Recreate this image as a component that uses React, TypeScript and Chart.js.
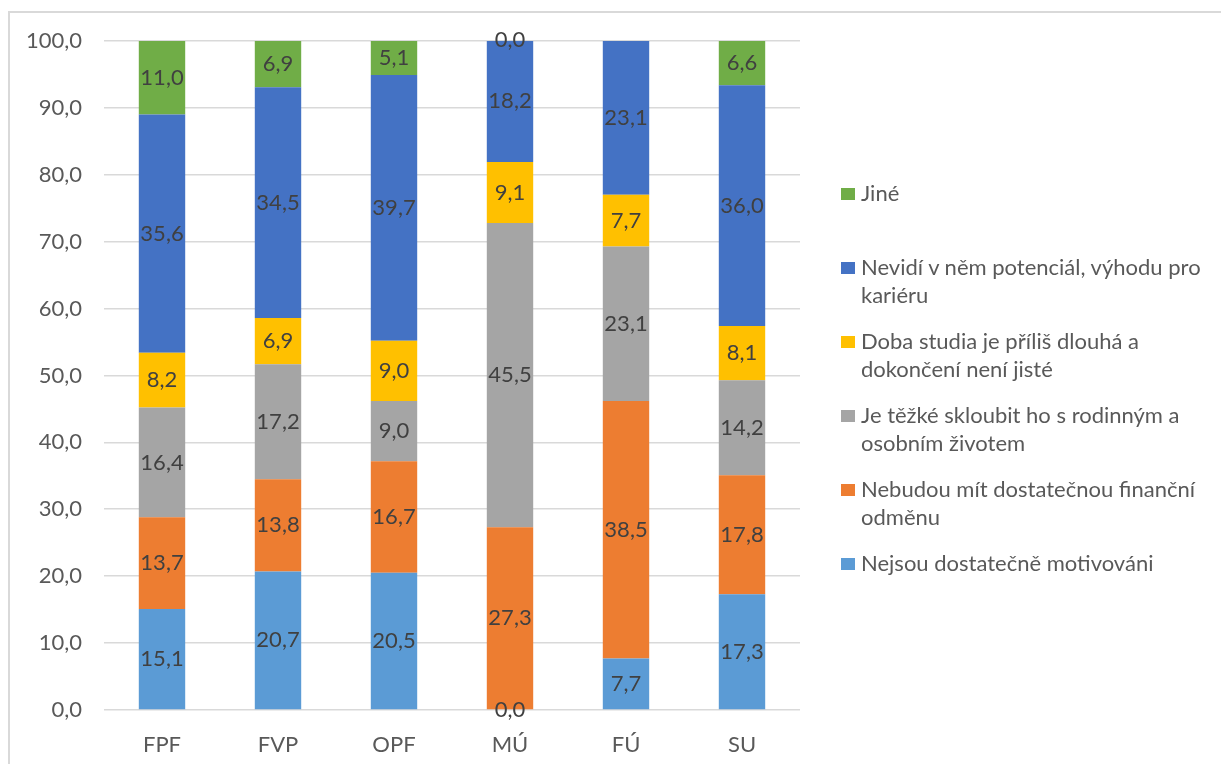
import React, { useEffect, useRef } from "react";
import { Chart, registerables } from "chart.js";

Chart.register(...registerables);

const categories = ["FPF", "FVP", "OPF", "MÚ", "FÚ", "SU"];

const seriesNames = [
  "Nejsou dostatečně motivováni",
  "Nebudou mít dostatečnou finanční odměnu",
  "Je těžké skloubit ho s rodinným a osobním životem",
  "Doba studia je příliš dlouhá a dokončení není jisté",
  "Nevidí v něm potenciál, výhodu pro kariéru",
  "Jiné",
];

const notMotivated = [15.1, 20.7, 20.5, 0.0, 7.7, 17.3];
const noReward = [13.7, 13.8, 16.7, 27.3, 38.5, 17.8];
const hardToCombine = [16.4, 17.2, 9.0, 45.5, 23.1, 14.2];
const tooLong = [8.2, 6.9, 9.0, 9.1, 7.7, 8.1];
const noPotential = [35.6, 34.5, 39.7, 18.2, 23.1, 36.0];
const other: (number | null)[] = [11.0, 6.9, 5.1, 0.0, null, 6.6];

const seriesValues = [notMotivated, noReward, hardToCombine, tooLong, noPotential, other];
const seriesColors = ["#5B9BD5", "#ED7D31", "#A5A5A5", "#FFC000", "#4472C4", "#70AD47"];

const yTickValues = [0, 10, 20, 30, 40, 50, 60, 70, 80, 90, 100];

const FONT = "Lato, 'Open Sans', sans-serif";

const fmt = (v: number) => v.toFixed(1).replace(".", ",");

const segmentLabels = {
  id: "segmentLabels",
  afterDatasetsDraw(chart: any) {
    const ctx = chart.ctx;
    ctx.save();
    ctx.font = `22px ${FONT}`;
    ctx.fillStyle = "#404040";
    ctx.textAlign = "center";
    ctx.textBaseline = "middle";
    chart.data.datasets.forEach((ds: any, i: number) => {
      const meta = chart.getDatasetMeta(i);
      meta.data.forEach((el: any, j: number) => {
        const v = ds.data[j];
        if (v === null || v === undefined) return;
        const p = el.getProps(["x", "y", "base"], true);
        ctx.fillText(fmt(v), p.x, (p.y + p.base) / 2);
      });
    });
    ctx.restore();
  },
};

export default function App() {
  const canvasRef = useRef<HTMLCanvasElement | null>(null);

  useEffect(() => {
    if (!canvasRef.current) return;
    const chart = new Chart(canvasRef.current, {
      type: "bar",
      data: {
        labels: categories,
        datasets: seriesNames.map((name, i) => ({
          label: name,
          data: seriesValues[i],
          backgroundColor: seriesColors[i],
          borderWidth: 0,
          barPercentage: 0.4,
          categoryPercentage: 1.0,
        })),
      },
      options: {
        responsive: false,
        animation: false,
        layout: { padding: { left: 0, right: 421, top: 41, bottom: 0 } },
        plugins: {
          legend: { display: false },
          tooltip: { enabled: false },
        },
        scales: {
          x: {
            stacked: true,
            grid: { display: false },
            border: { display: false },
            ticks: {
              color: "#595959",
              font: { family: FONT, size: 22 },
              padding: 14,
            },
            afterFit: (s: any) => {
              s.height = 54;
            },
          },
          y: {
            stacked: true,
            min: 0,
            max: 100,
            border: { display: false },
            grid: { color: "#d9d9d9", lineWidth: 1.6, drawTicks: false },
            afterBuildTicks: (s: any) => {
              s.ticks = yTickValues.map((v) => ({ value: v }));
            },
            ticks: {
              color: "#595959",
              font: { family: FONT, size: 22 },
              padding: 22,
              callback: (v: any) => fmt(Number(v)),
            },
            afterFit: (s: any) => {
              s.width = 104;
            },
          },
        },
      },
      plugins: [segmentLabels],
    });
    return () => chart.destroy();
  }, []);

  const legendOrder = seriesNames.map((_, i) => i).reverse();

  return (
    <div
      style={{
        position: "absolute",
        left: 0,
        top: 0,
        width: 1221,
        height: 764,
        background: "#ffffff",
        overflow: "hidden",
        fontFamily: FONT,
      }}
    >
      <div
        style={{
          position: "absolute",
          left: 8,
          top: 11,
          width: 1400,
          height: 900,
          borderLeft: "2px solid #d9d9d9",
          borderTop: "2px solid #d9d9d9",
        }}
      />
      <canvas
        ref={canvasRef}
        width={1221}
        height={764}
        style={{ position: "absolute", left: 0, top: 0, width: 1221, height: 764 }}
      />
      {legendOrder.map((idx, k) => (
        <div
          key={idx}
          style={{
            position: "absolute",
            left: 841,
            top: 179 + k * 74,
            width: 372,
          }}
        >
          <div
            style={{
              position: "absolute",
              left: 0,
              top: 9,
              width: 14,
              height: 12,
              background: seriesColors[idx],
            }}
          />
          <div
            style={{
              marginLeft: 20,
              width: 352,
              fontSize: 22,
              lineHeight: "28px",
              color: "#595959",
            }}
          >
            {seriesNames[idx]}
          </div>
        </div>
      ))}
    </div>
  );
}
